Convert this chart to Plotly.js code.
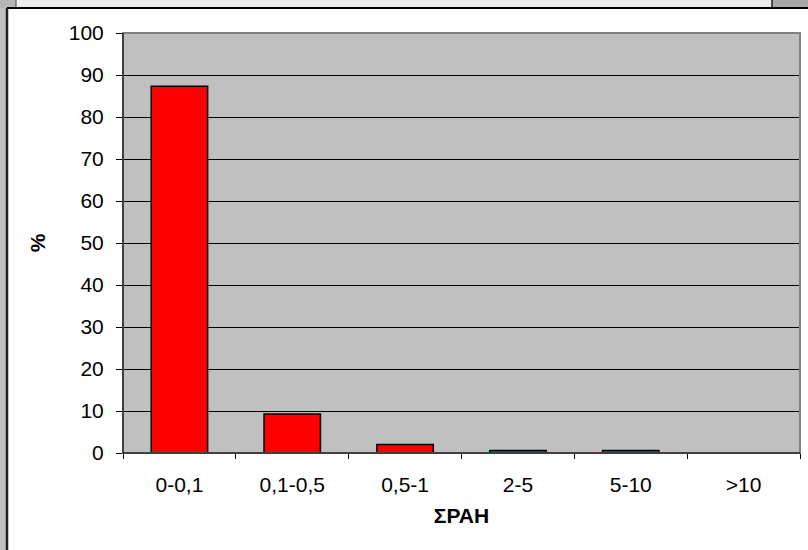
<!DOCTYPE html>
<html>
<head>
<meta charset="utf-8">
<script src="https://cdn.plot.ly/plotly-3.0.1.min.js"></script>
<style>html,body{margin:0;padding:0;background:#ffffff;}#chart{width:808px;height:550px;}</style>
</head>
<body>
<div id="chart"></div>
<script>
var categories = ['0-0,1', '0,1-0,5', '0,5-1', '2-5', '5-10', '>10'];
var percents = [87.3, 9.3, 2.0, 0.6, 0.6, 0];
var yTitle = '%';
var xTitle = 'ΣΡΑΗ';

var W = 808, H = 550, L = 123, R = 8, T = 33, B = 97;
var pw = W - L - R, ph = H - T - B;
function px(x) { return (x - L) / pw; }
function py(y) { return (H - B - y) / ph; }

var font = 'Arial, "Liberation Sans", sans-serif';
var fs = 21;

var data = [{
  type: 'bar',
  x: categories,
  y: percents,
  marker: { color: '#ff0000', line: { color: '#000000', width: 1.5 } },
  hoverinfo: 'x+y'
}];

function rect(x0, x1, y0, y1, fill, line) {
  return { type: 'rect', xref: 'paper', yref: 'paper', layer: 'below',
    x0: px(x0), x1: px(x1), y0: py(y1), y1: py(y0),
    fillcolor: fill, line: line || { width: 0 } };
}
function seg(x0, y0, x1, y1, color, width) {
  return { type: 'line', xref: 'paper', yref: 'paper', layer: 'above',
    x0: px(x0), x1: px(x1), y0: py(y0), y1: py(y1),
    line: { color: color, width: width } };
}

var layout = {
  width: W, height: H,
  margin: { l: L, r: R, t: T, b: B, pad: 0 },
  paper_bgcolor: '#ffffff',
  plot_bgcolor: '#c0c0c0',
  font: { family: font, size: fs, color: '#000000' },
  bargap: 0.5,
  showlegend: false,
  xaxis: {
    type: 'category',
    showline: true, linecolor: '#000000', linewidth: 1,
    ticks: 'outside', tickson: 'boundaries', ticklen: 5, tickcolor: '#000000', tickwidth: 1,
    ticklabelstandoff: 13,
    showgrid: false, zeroline: false,
    tickfont: { family: font, size: fs, color: '#000000' },
    title: { text: '<b>' + xTitle + '</b>', font: { family: font, size: fs, color: '#000000' }, standoff: 13 }
  },
  yaxis: {
    range: [0, 100], dtick: 10, tick0: 0,
    showline: true, linecolor: '#000000', linewidth: 1,
    ticks: 'outside', ticklen: 6, tickcolor: '#000000', tickwidth: 1,
    ticklabelstandoff: 8,
    showgrid: true, gridcolor: '#000000', gridwidth: 1,
    zeroline: false,
    tickfont: { family: font, size: fs, color: '#000000' },
    title: { text: '<b>' + yTitle + '</b>', font: { family: font, size: fs, color: '#000000' }, standoff: 17 }
  },
  shapes: [
    rect(-5, 7, -5, 560, '#c2c2c2'),
    rect(-5, 16, -5, 8, '#b5b5b5'),
    rect(16, 772, -5, 8, '#ececec'),
    rect(772, 815, -5, 8, '#a9a9a9'),
    seg(16, 0, 16, 8, '#444444', 1),
    seg(772, 0, 772, 8, '#222222', 1.5),
    seg(7, 8, 815, 8, '#000000', 2),
    seg(7, 8, 7, 560, '#222222', 2.5),
    { type: 'rect', xref: 'paper', yref: 'paper', layer: 'above',
      x0: 0, x1: 1, y0: 0, y1: 1,
      fillcolor: 'rgba(0,0,0,0)', line: { color: '#808080', width: 2 } },
    { type: 'line', xref: 'paper', yref: 'paper', layer: 'above',
      x0: 0, x1: 0, y0: 0, y1: 1, line: { color: '#000000', width: 1 } },
    { type: 'line', xref: 'paper', yref: 'paper', layer: 'above',
      x0: 0, x1: 1, y0: 0, y1: 0, line: { color: '#000000', width: 1 } }
  ]
};

Plotly.newPlot('chart', data, layout, { staticPlot: true, displayModeBar: false });
</script>
</body>
</html>
